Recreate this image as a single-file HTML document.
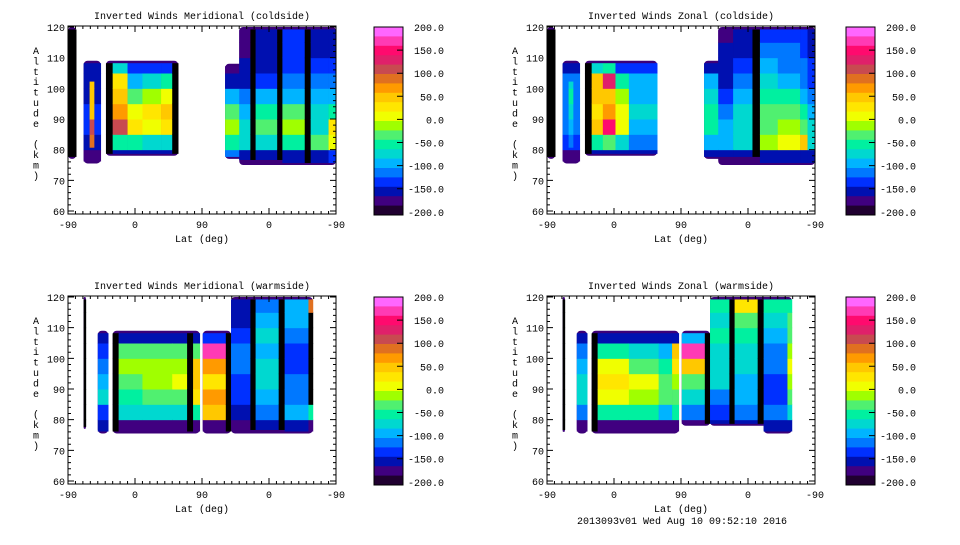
<!DOCTYPE html>
<html><head><meta charset="utf-8"><style>
body{margin:0;background:#fff;width:960px;height:540px;overflow:hidden}
svg text{font-family:"Liberation Mono",monospace;font-size:10px;fill:#000}
</style></head><body>
<svg id="c" width="960" height="540" viewBox="0 0 960 540" xmlns="http://www.w3.org/2000/svg"></svg>
<script>
const _=null;
// colour levels from 200 (top) down to -200
const levelColors=["#ff66ff","#ff3ab4","#ff0a6e","#e0206a","#c84a50","#e07020","#ff9a00","#ffc800","#ffe600","#f0ff00","#a0ff00","#50f070","#00f0a0","#00d8d0","#00b4ff","#0078ff","#0030ff","#0010b0","#400080","#200030"];
const cbarLabels=["200.0","150.0","100.0","50.0","0.0","-50.0","-100.0","-150.0","-200.0"];
const xTickLabels=["-90","0","90","0","-90"];
const yTickLabels=["60","70","80","90","100","110","120"];
const panelTitles=["Inverted Winds Meridional (coldside)","Inverted Winds Zonal (coldside)","Inverted Winds Meridional (warmside)","Inverted Winds Zonal (warmside)"];
// regions (outer outlines): [trackStart, trackEnd, altBottom, altTop]
const regionsColdMerid=[[0,11,77,120],[21,44,75.5,109],[51,148,78,109],[211,360,77,108],[230,360,75,120]];
const regionsColdZonal=[[0,11,77,120],[21,44,75.5,109],[51,148,78,109],[211,360,77,109],[230,360,75,120]];
const regionsWarmMerid=[[21,24,77,120],[40,54,75.5,109],[60,177,75.5,109],[181,219,75.5,109],[219,329,75.5,120]];
const regionsWarmZonal=[[21,24,76,120],[40,54,75.5,109],[60,177,75.5,109],[181,219,78,109],[219,329,78,120],[291,329,75.5,120]];
// blocks: [trackStart, trackEnd, altBottom, altTop, values per 5km bin starting at 75km]
const blocksColdMerid=[
[0,11,77,120,[-200,-200,-200,-200,-200,-200,-200,-200,-200]],
[21,44,75.5,109,[-160,-140,-120,-130,-140,-140,-150]],
[29,35,80,103,[_,100,120,60,60,60]],
[51,60,78,109,[-195,-195,-195,-195,-195,-195,-195]],
[60,80,78,109,[-150,-40,110,70,50,40,-60]],
[80,100,78,109,[-150,-40,30,10,-20,-90,-120]],
[100,125,78,109,[-150,-60,10,30,0,-60,-120]],
[125,140,78,109,[-150,-70,40,60,20,-40,-130]],
[140,148,78,109,[-195,-195,-195,-195,-195,-195,-195]],
[211,230,77,108,[-100,-40,0,-30,-90,-140,-170]],
[230,245,76,120,[-150,-70,-60,-80,-110,-140,-150,-160,-160]],
[245,252,76,120,[-195,-195,-195,-195,-195,-195,-195,-195,-195]],
[252,281,76,120,[-140,-60,-30,-50,-90,-120,-140,-150,-150]],
[281,288,76,120,[-195,-195,-195,-195,-195,-195,-195,-195,-195]],
[288,318,75,120,[-150,-50,-10,-30,-80,-110,-120,-130,-130]],
[318,326,75,120,[-195,-195,-195,-195,-195,-195,-195,-195,-195]],
[326,350,75,120,[-150,-30,-60,-70,-90,-110,-120,-140,-150]],
[350,360,75,120,[-130,20,40,-40,-80,-100,-120,-140,-150]]];
const blocksColdZonal=[
[0,11,77,120,[-200,-200,-200,-200,-200,-200,-200,-200,-200]],
[21,44,75.5,109,[-160,-130,-110,-110,-100,-110,-140]],
[29,35,80,103,[_,-100,-90,-60,-40,-60]],
[51,60,78,109,[-195,-195,-195,-195,-195,-195,-195]],
[60,75,78,109,[-150,-40,60,40,50,60,-60]],
[75,92,78,109,[-150,-20,150,80,60,140,-40]],
[92,110,78,109,[-150,-60,20,20,0,-40,-120]],
[110,148,78,109,[-150,-100,-80,-70,-80,-90,-130]],
[211,230,77,109,[-150,-80,-40,-40,-60,-80,-140]],
[230,250,77,120,[-150,-90,-90,-100,-120,-140,-150,-150,-160]],
[250,276,77,120,[-150,-70,-60,-70,-90,-110,-120,-140,-150]],
[276,286,77,120,[-195,-195,-195,-195,-195,-195,-195,-195,-195]],
[286,310,75,120,[-150,-10,-20,-30,-40,-70,-90,-110,-120]],
[310,340,75,120,[-150,10,0,-20,-50,-80,-100,-110,-120]],
[340,350,75,120,[-150,60,-20,-50,-80,-100,-110,-120,-130]],
[350,360,75,120,[-150,-60,-70,-80,-100,-120,-130,-140,-150]]];
const blocksWarmMerid=[
[21,24,77,120,[-200,-200,-200,-200,-200,-200,-200,-200,-200]],
[40,54,75.5,109,[-150,-130,-70,-80,-110,-130,-150]],
[60,68,75.5,109,[-195,-195,-195,-195,-195,-195,-195]],
[68,100,75.5,109,[-160,-60,-40,-20,-10,-30,-140]],
[100,140,75.5,109,[-160,-60,-30,-10,0,-30,-140]],
[140,160,75.5,109,[-160,-70,-30,10,0,-30,-140]],
[160,168,75.5,109,[-195,-195,-195,-195,-195,-195,-195]],
[168,177,75.5,109,[-160,-40,30,60,60,-20,-140]],
[181,212,75.5,109,[-170,60,80,30,70,170,-120]],
[212,219,75.5,109,[-195,-195,-195,-195,-195,-195,-195]],
[219,245,76,120,[-160,-140,-120,-120,-110,-110,-130,-140,-150]],
[245,252,76,120,[-195,-195,-195,-195,-195,-195,-195,-195,-195]],
[252,283,76,120,[-150,-100,-80,-60,-60,-80,-70,-90,-100]],
[283,291,76,120,[-195,-195,-195,-195,-195,-195,-195,-195,-195]],
[291,323,75.5,120,[-150,-90,-110,-110,-130,-120,-100,-80,-90]],
[323,329,75.5,120,[-170,-40,-195,-195,-195,-195,-195,-195,100]]];
const blocksWarmZonal=[
[21,24,76,120,[-200,-200,-200,-200,-200,-200,-200,-200,-200]],
[40,54,75.5,109,[-160,-110,-70,-60,-80,-110,-150]],
[60,68,75.5,109,[-195,-195,-195,-195,-195,-195,-195]],
[68,110,75.5,109,[-160,-50,10,30,20,-40,-140]],
[110,150,75.5,109,[-160,-40,0,20,-20,-60,-140]],
[150,168,75.5,109,[-160,-80,-30,-20,-40,-80,-140]],
[168,177,75.5,109,[-160,-50,-20,0,40,60,-140]],
[181,212,78,109,[-160,-100,-60,-20,60,180,-80]],
[212,219,78,109,[-195,-195,-195,-195,-195,-195,-195]],
[219,245,78,120,[-150,-130,-100,-70,-70,-60,-50,-60,-40]],
[245,252,78,120,[-195,-195,-195,-195,-195,-195,-195,-195,-195]],
[252,283,78,120,[-150,-110,-80,-80,-70,-60,-40,-20,30]],
[283,291,78,120,[-195,-195,-195,-195,-195,-195,-195,-195,-195]],
[291,323,75.5,120,[-150,-110,-120,-120,-110,-100,-80,-60,-40]],
[323,329,75.5,120,[-140,-60,-20,0,20,0,-20,-30,-40]]];
const panelBlocks=[blocksColdMerid,blocksColdZonal,blocksWarmMerid,blocksWarmZonal];
const panelRegions=[regionsColdMerid,regionsColdZonal,regionsWarmMerid,regionsWarmZonal];

const svg=document.getElementById('c');
const NS="http://www.w3.org/2000/svg";
function mk(tag,attrs,parent,txt){const e=document.createElementNS(NS,tag);for(const k in attrs)e.setAttribute(k,attrs[k]);if(txt!=null)e.textContent=txt;(parent||svg).appendChild(e);return e;}
function colorOf(v){if(v<=-190)return '#000';let i=Math.floor((200-v)/20);if(i<0)i=0;if(i>19)i=19;return levelColors[i];}

const origins=[[68,0],[547,0],[68,270],[547,270]];
const cbarX=[374,846,374,846];
origins.forEach((o,p)=>{
  const ox=o[0],oy=o[1];
  const W=268,yTop=oy+27,yBot=oy+211;
  const xs=u=>ox+u/360*W;
  const ys=a=>yBot-(a-60)/60*(yBot-yTop);
  const g=mk('g',{});
  
  
  const t=mk('text',{x:ox+134,y:oy+19,'text-anchor':'middle'},g,panelTitles[p]);
  
  
  panelRegions[p].forEach(r=>{
    const x0=xs(r[0]),x1=xs(r[1]),yb=ys(r[2]),yt=ys(r[3]);
    const e=mk('rect',{x:x0,y:yt,width:x1-x0,height:yb-yt,fill:'#3c0078',rx:Math.min(4,(x1-x0)/2)},g);
    
    
  });
  panelBlocks[p].forEach(b=>{
    const x0=xs(b[0]),x1=xs(b[1]);
    b[4].forEach((v,i)=>{
      if(v===null)return;
      const lo=Math.max(75+i*5,b[2]+0.8),hi=Math.min(80+i*5,b[3]-0.8);
      if(hi<=lo)return;
      const c=mk('rect',{x:x0,y:ys(hi),width:x1-x0+0.3,height:ys(lo)-ys(hi)+0.5,fill:colorOf(v)},g);
      
      
    });
  });
  const ax=mk('rect',{x:ox,y:oy+26,width:W,height:188,fill:'none',stroke:'#000','stroke-width':1},g);
  
  
  let d='';
  for(let u=0;u<=360;u+=10){const x=xs(u);const L=(u%90===0)?6:3;d+=`M${x},${oy+214}v-${L}M${x},${oy+26}v${L}`;}
  for(let a=60;a<=120;a+=2){const y=ys(a);const L=(a%10===0)?6:3;d+=`M${ox},${y}h${L}M${ox+W},${y}h-${L}`;}
  mk('path',{d:d,stroke:'#000','stroke-width':1,fill:'none'},g);
  xTickLabels.forEach((s,i)=>{const l=mk('text',{x:xs(i*90),y:oy+228,'text-anchor':'middle'},g,s);
    });
  yTickLabels.forEach((s,i)=>{const l=mk('text',{x:ox-3,y:ys(60+i*10)+4,'text-anchor':'end'},g,s);
    });
  const xt=mk('text',{x:ox+134,y:oy+242,'text-anchor':'middle'},g,'Lat (deg)');
  
  const yt=mk('text',{x:ox-32,y:oy+54,'text-anchor':'middle'},g);
  
  'Altitude (km)'.split('').forEach((ch,i)=>{mk('tspan',{x:ox-32,y:oy+54+i*10.4},yt,ch===' '?'\u00a0':ch);});
  const cx=cbarX[p],cT=oy+27,cB=oy+215,bh=(cB-cT)/20;
  const cg=mk('g',{},g);
  
  
  levelColors.forEach((c,i)=>{const r=mk('rect',{x:cx,y:cT+i*bh,width:29,height:bh+0.5,fill:c},cg);
    });
  mk('rect',{x:cx,y:cT,width:29,height:cB-cT,fill:'none',stroke:'#000'},cg);
  let cd='';
  cbarLabels.forEach((s,i)=>{const y=oy+27+i*23.1;
    if(i>0&&i<8)cd+=`M${cx+29},${y}h-6`;
    const l=mk('text',{x:cx+70,y:y+4,'text-anchor':'end'},cg,s);
    });
  mk('path',{d:cd,stroke:'#000'},cg);
});
const ft=mk('text',{x:682,y:524,'text-anchor':'middle'},svg,'2013093v01 Wed Aug 10 09:52:10 2016');


</script>
</body></html>
